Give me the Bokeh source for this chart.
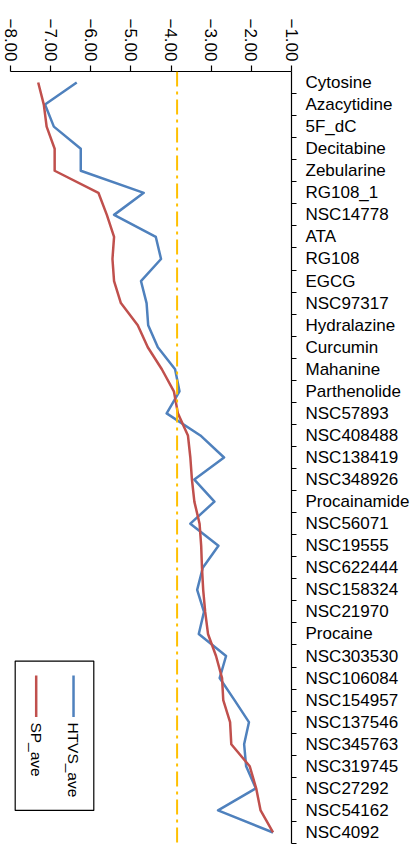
import math
from bokeh.plotting import figure
from bokeh.models import Range1d, FixedTicker, Span, Label, BoxAnnotation, ColumnDataSource
from bokeh.embed import file_html
from bokeh.resources import INLINE

compounds = ["Cytosine", "Azacytidine", "5F_dC", "Decitabine", "Zebularine", "RG108_1",
             "NSC14778", " ATA", "RG108", "EGCG", "NSC97317", "Hydralazine", "Curcumin",
             "Mahanine", "Parthenolide", "NSC57893", "NSC408488", "NSC138419", "NSC348926",
             "Procainamide", "NSC56071", "NSC19555", "NSC622444", "NSC158324", "NSC21970",
             "Procaine", "NSC303530", "NSC106084", "NSC154957", "NSC137546", "NSC345763",
             "NSC319745", "NSC27292", "NSC54162", "NSC4092"]

htvs_ave = [-6.35, -7.14, -6.92, -6.25, -6.25, -4.68, -5.42, -4.38, -4.25, -4.75,
            -4.61, -4.57, -4.33, -3.90, -3.79, -4.11, -3.27, -2.68, -3.42, -2.92,
            -3.52, -2.82, -3.21, -3.35, -3.18, -3.31, -2.63, -2.79, -2.42, -2.06,
            -2.18, -2.13, -1.89, -2.83, -1.46]

sp_ave = [-7.31, -7.17, -7.10, -6.90, -6.90, -5.81, -5.60, -5.42, -5.46, -5.42,
          -5.25, -4.83, -4.58, -4.23, -3.93, -3.83, -3.58, -3.52, -3.48, -3.42,
          -3.29, -3.25, -3.23, -3.20, -3.15, -3.08, -2.88, -2.73, -2.70, -2.53,
          -2.50, -2.04, -1.88, -1.77, -1.46]

threshold = -3.85

x_ticks = [-8, -7, -6, -5, -4, -3, -2, -1]
x_tick_labels = ["\u22128.00", "\u22127.00", "\u22126.00", "\u22125.00",
                 "\u22124.00", "\u22123.00", "\u22122.00", "\u22121.00"]

series_names = ["HTVS_ave", "SP_ave"]
series_colors = ["#4F81BD", "#C0504D"]

FONT = "Liberation Sans"

pos = list(range(len(compounds)))
src = ColumnDataSource(dict(pos=pos, htvs=htvs_ave, sp=sp_ave))

p = figure(width=417, height=844, output_backend="svg", toolbar_location=None,
           x_axis_location="above", y_axis_location="right",
           x_range=Range1d(x_ticks[0], x_ticks[-1]),
           y_range=Range1d(len(compounds) - 0.5, -0.5),
           min_border_left=10, min_border_right=126, min_border_top=71,
           min_border_bottom=1)
p.outline_line_color = None
p.xgrid.visible = False
p.ygrid.visible = False
p.background_fill_color = "white"
p.border_fill_color = "white"

p.line(x="htvs", y="pos", source=src, line_color=series_colors[0], line_width=2.5,
       line_join="round")
p.line(x="sp", y="pos", source=src, line_color=series_colors[1], line_width=2.5,
       line_join="round")

p.add_layout(Span(location=threshold, dimension="height", line_color="#FFC000",
                  line_width=2, line_dash="15 5 3 5"))

xa = p.xaxis[0]
xa.ticker = FixedTicker(ticks=x_ticks)
xa.major_label_overrides = dict(zip(x_ticks, x_tick_labels))
xa.major_label_orientation = -math.pi / 2
xa.major_tick_out = 6
xa.major_tick_in = 0
xa.minor_tick_line_color = None
xa.major_label_standoff = 4
xa.axis_line_color = "black"
xa.axis_line_width = 1.2
xa.major_tick_line_color = "black"
xa.major_tick_line_width = 1.2
xa.major_label_text_font = FONT
xa.major_label_text_font_size = "17px"
xa.major_label_text_color = "black"

ya = p.yaxis[0]
ya.ticker = FixedTicker(ticks=pos, minor_ticks=[i + 0.5 for i in pos])
ya.major_label_overrides = dict(zip(pos, compounds))
ya.major_tick_line_color = None
ya.major_tick_out = 0
ya.major_tick_in = 0
ya.minor_tick_out = 5
ya.minor_tick_in = 0
ya.minor_tick_line_color = "black"
ya.minor_tick_line_width = 1.2
ya.axis_line_color = "black"
ya.axis_line_width = 1.2
ya.major_label_standoff = 9
ya.major_label_text_font = FONT
ya.major_label_text_font_size = "17px"
ya.major_label_text_color = "black"

# legend (rotated, drawn manually)
p.add_layout(BoxAnnotation(left=-7.883, right=-5.925, top=26.23, bottom=33.0,
                           fill_alpha=0, line_color="black", line_alpha=1.0,
                           line_width=1.2))
leg_x = [-6.43, -7.36]
p.segment(x0=leg_x, y0=[26.88, 26.88], x1=leg_x, y1=[28.77, 28.77],
          line_color=series_colors, line_width=2.5)
for lx, name in zip(leg_x, series_names):
    p.add_layout(Label(x=lx, y=29.01, text=name, angle=-math.pi / 2,
                       text_align="left", text_baseline="middle",
                       text_font=FONT, text_font_size="15.5px", text_color="black"))

open("out.html", "w").write(file_html(p, INLINE))
